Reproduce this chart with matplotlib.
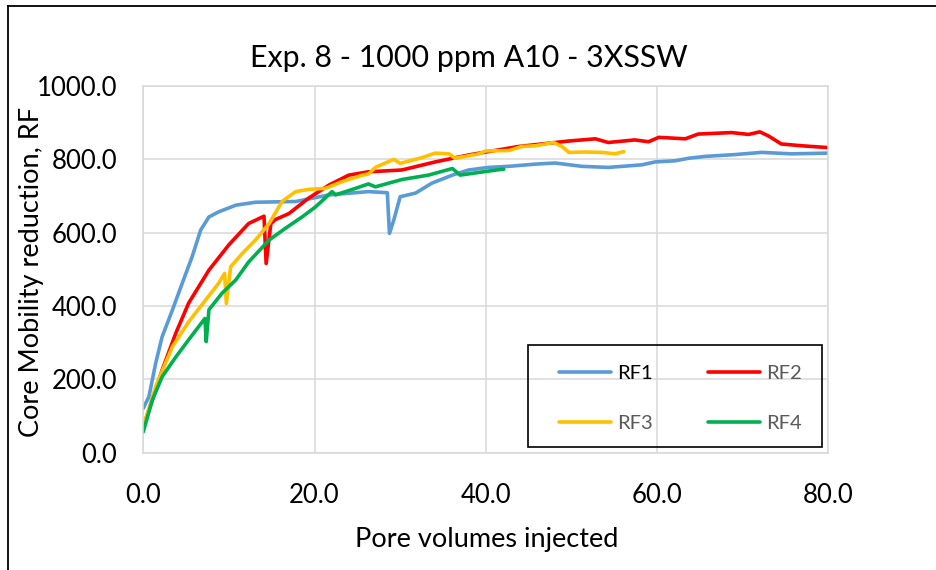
import matplotlib
matplotlib.use("Agg")
import matplotlib.pyplot as plt
from matplotlib.lines import Line2D
from matplotlib.patches import Rectangle

plt.rcParams["font.family"] = ["Lato", "DejaVu Sans"]

# ---- data ----
rf1_x = [0, 0.66, 1.45, 2.2, 3.4, 4.55, 5.7, 6.7, 7.67, 8.83, 10.8, 13.1, 17.8, 21.7,
         26.3, 28.5, 28.75, 29.25, 30.0, 31.8, 33.7, 36.1, 38.0, 40.3, 42.7, 45.8, 48.1,
         51.2, 54.3, 58.2, 59.8, 62.1, 63.7, 65.6, 69.1, 72.2, 75.7, 80.0]
rf1_y = [121, 153, 244, 316, 389, 462, 534, 607, 643, 657, 675, 683, 685, 703,
         712, 709, 598, 634, 698, 708, 735, 757, 771, 778, 781, 787, 790,
         781, 778, 785, 793, 796, 803, 808, 813, 819, 815, 817]

rf2_x = [0, 1.05, 2.2, 3.8, 5.3, 7.67, 10.0, 12.3, 14.1, 14.35, 14.9, 15.45, 17.0, 19.3,
         21.7, 24.0, 26.3, 30.2, 34.1, 38.0, 43.8, 49.7, 52.8, 54.3, 57.4, 59.0, 60.2,
         63.3, 64.8, 68.7, 70.7, 72.0, 73.0, 74.5, 76.9, 80.0]
rf2_y = [71, 143, 225, 326, 408, 498, 567, 625, 645, 516, 625, 636, 652, 694,
         730, 757, 766, 771, 793, 812, 835, 850, 856, 846, 853, 848, 860,
         856, 869, 873, 868, 875, 864, 842, 837, 832]

rf3_x = [0, 1.45, 3.4, 5.3, 7.3, 8.8, 9.5, 9.7, 10.2, 11.55, 13.1, 14.7, 16.2, 17.8,
         19.3, 21.3, 23.2, 25.6, 26.3, 27.1, 29.25, 30.0, 32.6, 34.1, 35.7, 36.4, 39.2,
         40.0, 42.7, 44.2, 45.8, 47.9, 48.9, 49.7, 51.6, 53.6, 55.1, 56.1]
rf3_y = [71, 180, 289, 357, 417, 462, 489, 407, 507, 543, 580, 625, 685, 712,
         718, 721, 739, 757, 760, 778, 800, 789, 805, 817, 815, 803, 815,
         823, 824, 835, 837, 846, 835, 819, 820, 819, 815, 821]

rf4_x = [0, 1.05, 2.2, 3.8, 5.3, 6.9, 7.2, 7.35, 7.67, 9.2, 10.8, 12.3, 14.7, 16.6,
         18.55, 20.1, 22.05, 22.45, 24.8, 26.3, 27.1, 30.2, 33.3, 36.1, 37.0, 38.8,
         41.9, 42.1]
rf4_y = [57, 143, 207, 261, 308, 357, 366, 303, 390, 435, 471, 520, 580, 612,
         643, 670, 712, 703, 721, 733, 725, 745, 757, 775, 757, 763,
         773, 773]

x_ticks = [0, 20, 40, 60, 80]
y_ticks = [0, 200, 400, 600, 800, 1000]

series = [
    (rf1_x, rf1_y, "RF1", "#5B9BD5"),
    (rf2_x, rf2_y, "RF2", "#FF0000"),
    (rf3_x, rf3_y, "RF3", "#FFC000"),
    (rf4_x, rf4_y, "RF4", "#00B050"),
]

W, H = 937, 570
fig = plt.figure(figsize=(W / 100, H / 100), dpi=100)
ax = fig.add_axes([0.1529, 0.2058, 0.7311, 0.6433])

lines = {}
for xs, ys, name, color in series:
    lines[name], = ax.plot(xs, ys, color=color, linewidth=2.6, label=name,
                           solid_joinstyle="round", solid_capstyle="round")

ax.set_xlim(0, 80)
ax.set_ylim(0, 1000)
ax.set_xticks(x_ticks)
ax.set_yticks(y_ticks)
ax.set_xticklabels([f"{v:.1f}" for v in x_ticks])
ax.set_yticklabels([f"{v:.1f}" for v in y_ticks])
ax.tick_params(length=0, labelsize=18.5, colors="#000000")
ax.tick_params(axis="y", pad=19)
ax.tick_params(axis="x", pad=22)
ax.grid(True, color="#D9D9D9", linewidth=1.1)
ax.set_axisbelow(True)
for sp in ax.spines.values():
    sp.set_color("#D9D9D9")
    sp.set_linewidth(1.1)

fig.text(487 / W, 1 - 539 / H, "Pore volumes injected", ha="center", va="center",
         fontsize=19.5)
fig.text(32 / W, 1 - 272 / H, "Core Mobility reduction, RF", ha="center", va="center",
         rotation=90, fontsize=19.5)
fig.text(0.5, 1 - 58 / H, "Exp. 8 - 1000 ppm A10 - 3XSSW", ha="center", va="center",
         fontsize=21.9)

# helpers: pixel position (from top-left) -> axes fraction
ax_l, ax_b, ax_w, ax_h = 143.3, 452.7, 685.0, 366.7
def to_ax(px, py):
    return (px - ax_l) / ax_w, (ax_b - py) / ax_h

# legend filled row by row: RF1 RF2 / RF3 RF4
order = ["RF1", "RF3", "RF2", "RF4"]
leg = ax.legend([lines[n] for n in order], order, ncol=2, loc="upper left",
                bbox_to_anchor=to_ax(559, 365), borderaxespad=0, borderpad=0,
                frameon=False, fontsize=14.5, handlelength=2.6, handletextpad=0.3,
                columnspacing=2.7, labelspacing=1.65)
for t in leg.get_texts():
    t.set_color("#000000" if t.get_text() == "RF1" else "#595959")

# legend frame (transparent inside, gridlines show through)
x0, y0 = to_ax(528, 447)
x1, y1 = to_ax(822, 345)
ax.add_patch(Rectangle((x0, y0), x1 - x0, y1 - y0, transform=ax.transAxes,
                       facecolor="none", edgecolor="#000000", linewidth=1.2,
                       zorder=6, clip_on=False))

# outer chart border (left and top edges visible in the crop)
fig.add_artist(Line2D([8 / W, 8 / W], [0, 1 - 6 / H], transform=fig.transFigure,
                      color="#000000", linewidth=1.3))
fig.add_artist(Line2D([8 / W, 1], [1 - 6 / H, 1 - 6 / H], transform=fig.transFigure,
                      color="#000000", linewidth=1.3))

fig.savefig("out.png", dpi=100)
